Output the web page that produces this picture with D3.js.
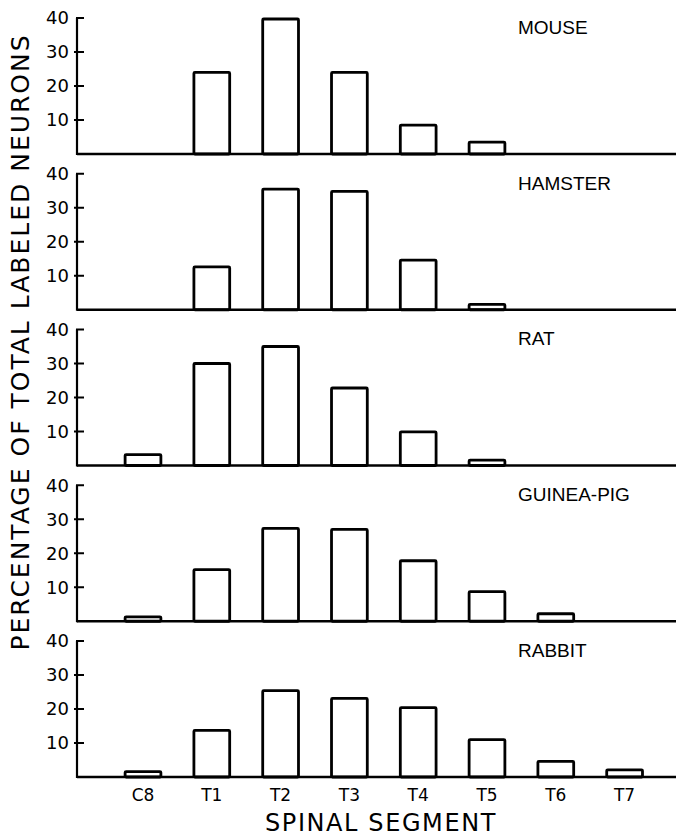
<!DOCTYPE html>
<html>
<head>
<meta charset="utf-8">
<script src="https://cdn.jsdelivr.net/npm/d3@7.9.0/dist/d3.min.js"></script>
<style>
  body { margin: 0; background: #fff; }
  svg { display: block; }
  text { font-family: "DejaVu Sans", sans-serif; fill: #000; }
</style>
</head>
<body>
<div id="chart"></div>
<script>
// ---------------------- Data ----------------------
const segments = ['C8', 'T1', 'T2', 'T3', 'T4', 'T5', 'T6', 'T7'];
const species = ['MOUSE', 'HAMSTER', 'RAT', 'GUINEA-PIG', 'RABBIT'];
const yTicks = [10, 20, 30, 40];

const mouse     = [0,   24,   39.7, 24,   8.5,  3.5, 0,   0];
const hamster   = [0,   12.6, 35.5, 34.8, 14.6, 1.6, 0,   0];
const rat       = [3.2, 30,   35,   22.8, 9.9,  1.6, 0,   0];
const guineaPig = [1.3, 15.2, 27.3, 27,   17.8, 8.7, 2.2, 0];
const rabbit    = [1.6, 13.7, 25.4, 23.1, 20.4, 11,  4.6, 2.1];

const seriesValues = [mouse, hamster, rat, guineaPig, rabbit];

// ---------------------- Layout ----------------------
const width = 677;
const height = 837;
const axisX = 77;
const rightX = 676;
const panelHeight = 136;

const svg = d3.select('#chart')
  .append('svg')
  .attr('width', width)
  .attr('height', height);

// baseline of every panel
const panelScale = d3.scalePoint()
  .domain(species)
  .range([154, 777]);

const xScale = d3.scalePoint()
  .domain(segments)
  .range([108.6, 659])
  .padding(0.5);

const barWidth = xScale.step() * 0.52;

const yScale = d3.scaleLinear()
  .domain([0, 40])
  .range([0, -panelHeight]);

species.forEach((name, i) => {
  const g = svg.append('g')
    .attr('transform', `translate(0, ${panelScale(name)})`);

  // bars
  const rows = segments.map((s, j) => ({ seg: s, value: seriesValues[i][j] }))
    .filter(d => d.value > 0);

  g.selectAll('rect')
    .data(rows)
    .join('rect')
    .attr('x', d => xScale(d.seg) - barWidth / 2)
    .attr('y', d => yScale(d.value))
    .attr('width', barWidth)
    .attr('height', d => -yScale(d.value))
    .attr('rx', 1)
    .attr('fill', '#fff')
    .attr('stroke', '#000')
    .attr('stroke-width', 2.8);

  // baseline
  g.append('line')
    .attr('x1', axisX).attr('x2', rightX)
    .attr('y1', 0).attr('y2', 0)
    .attr('stroke', '#000')
    .attr('stroke-width', 2.4);

  // vertical axis
  g.append('line')
    .attr('x1', axisX).attr('x2', axisX)
    .attr('y1', 1).attr('y2', yScale(40))
    .attr('stroke', '#000')
    .attr('stroke-width', 2.2);

  const ticks = g.append('g');
  ticks.selectAll('line')
    .data(yTicks)
    .join('line')
    .attr('x1', d => d === 40 ? axisX - 1 : axisX - 3)
    .attr('x2', axisX + 7)
    .attr('y1', d => yScale(d))
    .attr('y2', d => yScale(d))
    .attr('stroke', '#000')
    .attr('stroke-width', 2);

  ticks.selectAll('text')
    .data(yTicks)
    .join('text')
    .attr('x', axisX - 8)
    .attr('y', d => yScale(d))
    .attr('dy', '0.36em')
    .attr('text-anchor', 'end')
    .style('font-size', '18px')
    .text(d => d);

  // panel title
  g.append('text')
    .attr('x', 518)
    .attr('y', yScale(40) + 9)
    .attr('dy', '0.36em')
    .style('font-family', '"Liberation Sans", Arial, sans-serif')
    .style('font-size', '19px')
    .text(name);
});

// x tick labels under the last panel
const lastBase = panelScale(species[species.length - 1]);
svg.append('g')
  .selectAll('text')
  .data(segments)
  .join('text')
  .attr('x', d => xScale(d))
  .attr('y', lastBase + 18)
  .attr('dy', '0.36em')
  .attr('text-anchor', 'middle')
  .style('font-size', '17px')
  .text(d => d);

// axis titles
svg.append('text')
  .attr('x', 381)
  .attr('y', 822)
  .attr('dy', '0.36em')
  .attr('text-anchor', 'middle')
  .style('font-size', '24px')
  .style('letter-spacing', '1.6px')
  .text('SPINAL SEGMENT');

svg.append('text')
  .attr('transform', 'translate(20, 342) rotate(-90)')
  .attr('dy', '0.36em')
  .attr('text-anchor', 'middle')
  .style('font-size', '25px')
  .style('letter-spacing', '2px')
  .text('PERCENTAGE OF TOTAL LABELED NEURONS');
</script>
</body>
</html>
